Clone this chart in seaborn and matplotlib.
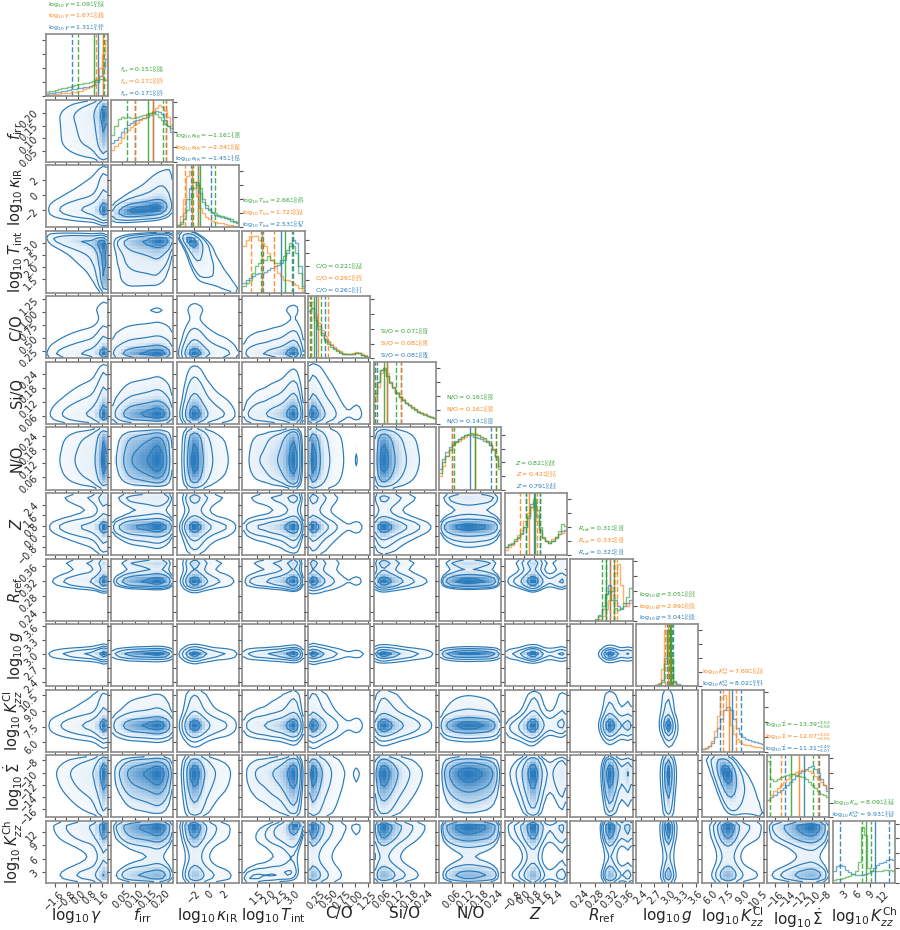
import numpy as np
import pandas as pd
import matplotlib
matplotlib.use("Agg")
import matplotlib.pyplot as plt
import seaborn as sns
from matplotlib.colors import LinearSegmentedColormap
from matplotlib.ticker import MaxNLocator
from statistics import NormalDist

sns.set_style("ticks")
plt.rcParams['font.family'] = ['DejaVu Sans']
plt.rcParams['mathtext.fontset'] = 'dejavusans'

# --------------------------- data ---------------------------
axis_labels = [r"$\log_{10}\gamma$", r"$f_{\rm irr}$", r"$\log_{10}\kappa_{\rm IR}$",
               r"$\log_{10}T_{\rm int}$", "C/O", "Si/O", "N/O", r"$Z$", r"$R_{\rm ref}$",
               r"$\log_{10}g$", r"$\log_{10}K_{zz}^{\rm Cl}$", r"$\log_{10}\dot{\Sigma}$",
               r"$\log_{10}K_{zz}^{\rm Ch}$"]
title_names = [r"\log_{10}\gamma", r"f_{\rm irr}", r"\log_{10}\kappa_{\rm IR}", r"\log_{10}T_{\rm int}",
               r"{\rm C/O}", r"{\rm Si/O}", r"{\rm N/O}", r"Z", r"R_{\rm ref}", r"\log_{10}g",
               r"\log_{10}K_{zz}^{\rm Cl}", r"\log_{10}\dot{\Sigma}", r"\log_{10}K_{zz}^{\rm Ch}"]
green_name_kch = r"\log_{10}K_{zz}"

ranges = [(-2.2, 2.0), (0.01, 0.25), (-4.3, 4.0), (0.9, 3.5), (0.1, 1.3), (0.025, 0.29),
          (0.005, 0.275), (-1.45, 3.3), (0.216, 0.38), (2.3, 3.65), (5.1, 11.0),
          (-17.3, -7.2), (0.4, 14.6)]

tick_values = [[-1.6, -0.8, 0.0, 0.8, 1.6], [0.05, 0.10, 0.15, 0.20], [-2, 0, 2],
               [1.5, 2.0, 2.5, 3.0], [0.25, 0.50, 0.75, 1.00, 1.25], [0.06, 0.12, 0.18, 0.24],
               [0.06, 0.12, 0.18, 0.24], [-0.8, 0.0, 0.8, 1.6, 2.4], [0.24, 0.28, 0.32, 0.36],
               [2.4, 2.7, 3.0, 3.3, 3.6], [6.0, 7.5, 9.0, 10.5], [-16, -14, -12, -10, -8],
               [3, 6, 9, 12]]
tick_labels = [["−1.6", "−0.8", "0.0", "0.8", "1.6"], ["0.05", "0.10", "0.15", "0.20"],
               ["−2", "0", "2"], ["1.5", "2.0", "2.5", "3.0"],
               ["0.25", "0.50", "0.75", "1.00", "1.25"], ["0.06", "0.12", "0.18", "0.24"],
               ["0.06", "0.12", "0.18", "0.24"], ["−0.8", "0.0", "0.8", "1.6", "2.4"],
               ["0.24", "0.28", "0.32", "0.36"], ["2.4", "2.7", "3.0", "3.3", "3.6"],
               ["6.0", "7.5", "9.0", "10.5"], ["−16", "−14", "−12", "−10", "−8"],
               ["3", "6", "9", "12"]]

# 20-bin marginal histograms (relative heights)
hist_blue = [
    [0.04, 0.05, 0.06, 0.07, 0.08, 0.09, 0.10, 0.11, 0.12, 0.13, 0.14, 0.15, 0.16, 0.17, 0.18, 0.20, 0.25, 0.35, 0.50, 0.65],
    [0.32, 0.36, 0.42, 0.50, 0.56, 0.62, 0.66, 0.68, 0.70, 0.72, 0.74, 0.76, 0.78, 0.82, 0.86, 0.84, 0.80, 0.70, 0.60, 0.50],
    [0.05, 0.10, 0.25, 0.50, 0.70, 0.80, 0.75, 0.60, 0.45, 0.35, 0.30, 0.25, 0.22, 0.20, 0.18, 0.17, 0.15, 0.12, 0.10, 0.08],
    [0.15, 0.20, 0.22, 0.25, 0.28, 0.30, 0.30, 0.32, 0.35, 0.38, 0.40, 0.42, 0.45, 0.50, 0.60, 0.70, 0.80, 0.75, 0.40, 0.10],
    [0.80, 0.85, 0.70, 0.55, 0.42, 0.33, 0.27, 0.22, 0.18, 0.14, 0.11, 0.08, 0.07, 0.07, 0.08, 0.10, 0.09, 0.06, 0.04, 0.03],
    [0.55, 0.75, 0.95, 0.95, 0.85, 0.75, 0.65, 0.55, 0.48, 0.42, 0.38, 0.33, 0.30, 0.26, 0.22, 0.20, 0.17, 0.15, 0.12, 0.10],
    [0.30, 0.45, 0.55, 0.62, 0.68, 0.72, 0.75, 0.78, 0.80, 0.80, 0.80, 0.78, 0.76, 0.74, 0.72, 0.70, 0.65, 0.60, 0.50, 0.35],
    [0.15, 0.18, 0.20, 0.25, 0.30, 0.38, 0.50, 0.70, 0.90, 0.95, 0.70, 0.45, 0.30, 0.25, 0.22, 0.25, 0.30, 0.38, 0.42, 0.45],
    [0.00, 0.00, 0.00, 0.00, 0.00, 0.00, 0.00, 0.00, 0.02, 0.08, 0.20, 0.45, 0.60, 0.50, 0.35, 0.25, 0.20, 0.25, 0.30, 0.35],
    [0.00, 0.00, 0.00, 0.00, 0.00, 0.01, 0.02, 0.04, 0.12, 0.50, 1.00, 0.35, 0.10, 0.04, 0.02, 0.01, 0.00, 0.00, 0.00, 0.00],
    [0.05, 0.07, 0.10, 0.15, 0.25, 0.40, 0.55, 0.70, 0.76, 0.70, 0.55, 0.40, 0.30, 0.25, 0.22, 0.20, 0.18, 0.16, 0.15, 0.13],
    [0.30, 0.35, 0.38, 0.42, 0.47, 0.50, 0.55, 0.60, 0.65, 0.70, 0.75, 0.78, 0.82, 0.85, 0.86, 0.82, 0.75, 0.65, 0.55, 0.45],
    [0.20, 0.28, 0.30, 0.28, 0.22, 0.18, 0.15, 0.14, 0.13, 0.14, 0.15, 0.17, 0.20, 0.25, 0.30, 0.33, 0.36, 0.38, 0.40, 0.38],
]
hist_orange = [
    [0.02, 0.02, 0.03, 0.03, 0.04, 0.05, 0.05, 0.06, 0.07, 0.08, 0.09, 0.10, 0.12, 0.14, 0.17, 0.20, 0.30, 0.50, 0.75, 1.00],
    [0.20, 0.26, 0.32, 0.40, 0.48, 0.54, 0.58, 0.62, 0.66, 0.70, 0.74, 0.78, 0.82, 0.86, 0.90, 0.95, 0.92, 0.85, 0.75, 0.62],
    [0.05, 0.20, 0.50, 0.90, 1.00, 0.80, 0.55, 0.35, 0.25, 0.18, 0.14, 0.12, 0.10, 0.08, 0.07, 0.06, 0.05, 0.04, 0.03, 0.02],
    [0.70, 0.80, 0.85, 0.85, 0.85, 0.80, 0.75, 0.70, 0.60, 0.50, 0.40, 0.30, 0.25, 0.20, 0.20, 0.18, 0.15, 0.12, 0.08, 0.03],
    [0.90, 0.95, 0.75, 0.60, 0.48, 0.38, 0.30, 0.24, 0.20, 0.15, 0.12, 0.10, 0.08, 0.08, 0.09, 0.11, 0.10, 0.07, 0.05, 0.03],
    [0.40, 0.65, 0.90, 1.00, 0.90, 0.75, 0.65, 0.57, 0.50, 0.44, 0.38, 0.34, 0.30, 0.26, 0.23, 0.20, 0.17, 0.15, 0.12, 0.10],
    [0.20, 0.35, 0.50, 0.60, 0.65, 0.70, 0.72, 0.75, 0.78, 0.80, 0.82, 0.82, 0.80, 0.78, 0.75, 0.72, 0.68, 0.60, 0.50, 0.35],
    [0.10, 0.14, 0.18, 0.25, 0.35, 0.45, 0.60, 0.75, 0.85, 0.80, 0.60, 0.40, 0.30, 0.25, 0.25, 0.28, 0.32, 0.38, 0.40, 0.42],
    [0.00, 0.00, 0.00, 0.00, 0.00, 0.00, 0.00, 0.00, 0.01, 0.03, 0.08, 0.20, 0.35, 0.55, 0.80, 0.95, 0.60, 0.30, 0.25, 0.30],
    [0.00, 0.00, 0.00, 0.00, 0.00, 0.01, 0.02, 0.05, 0.30, 1.00, 0.60, 0.15, 0.05, 0.02, 0.01, 0.00, 0.00, 0.00, 0.00, 0.00],
    [0.05, 0.07, 0.10, 0.18, 0.35, 0.60, 0.90, 0.95, 0.70, 0.45, 0.30, 0.22, 0.17, 0.14, 0.12, 0.11, 0.10, 0.09, 0.08, 0.07],
    [0.30, 0.38, 0.45, 0.50, 0.55, 0.60, 0.65, 0.70, 0.73, 0.76, 0.78, 0.80, 0.80, 0.78, 0.75, 0.70, 0.65, 0.60, 0.55, 0.50],
    None,
]
hist_green = [
    [0.08, 0.09, 0.10, 0.11, 0.12, 0.14, 0.15, 0.17, 0.18, 0.20, 0.21, 0.22, 0.23, 0.24, 0.25, 0.27, 0.28, 0.30, 0.30, 0.28],
    [0.45, 0.60, 0.72, 0.76, 0.74, 0.75, 0.73, 0.74, 0.76, 0.77, 0.78, 0.80, 0.82, 0.84, 0.80, 0.76, 0.70, 0.64, 0.60, 0.56],
    [0.03, 0.06, 0.15, 0.30, 0.50, 0.70, 0.80, 0.70, 0.50, 0.40, 0.33, 0.28, 0.25, 0.22, 0.20, 0.18, 0.17, 0.15, 0.12, 0.10],
    [0.10, 0.15, 0.20, 0.30, 0.40, 0.45, 0.50, 0.50, 0.55, 0.50, 0.45, 0.45, 0.50, 0.55, 0.65, 0.75, 0.70, 0.60, 0.30, 0.08],
    [0.95, 0.85, 0.65, 0.50, 0.40, 0.30, 0.25, 0.20, 0.16, 0.12, 0.10, 0.08, 0.07, 0.07, 0.08, 0.10, 0.09, 0.06, 0.04, 0.03],
    [0.50, 0.75, 0.95, 1.00, 0.85, 0.72, 0.63, 0.55, 0.48, 0.42, 0.37, 0.33, 0.29, 0.25, 0.22, 0.19, 0.16, 0.14, 0.12, 0.10],
    [0.25, 0.40, 0.50, 0.58, 0.65, 0.70, 0.74, 0.77, 0.80, 0.82, 0.83, 0.82, 0.80, 0.78, 0.76, 0.72, 0.66, 0.58, 0.48, 0.30],
    [0.15, 0.20, 0.22, 0.28, 0.32, 0.40, 0.50, 0.65, 0.85, 1.00, 0.80, 0.50, 0.32, 0.25, 0.22, 0.25, 0.32, 0.42, 0.55, 0.52],
    [0.00, 0.00, 0.00, 0.00, 0.00, 0.00, 0.00, 0.00, 0.03, 0.10, 0.25, 0.45, 0.50, 0.35, 0.22, 0.18, 0.22, 0.30, 0.40, 0.55],
    [0.00, 0.00, 0.00, 0.00, 0.00, 0.01, 0.02, 0.03, 0.08, 0.40, 1.00, 0.50, 0.08, 0.03, 0.01, 0.00, 0.00, 0.00, 0.00, 0.00],
    None,
    [0.95, 0.65, 0.62, 0.65, 0.68, 0.70, 0.72, 0.73, 0.73, 0.72, 0.70, 0.68, 0.65, 0.60, 0.55, 0.50, 0.45, 0.40, 0.37, 0.35],
    [0.05, 0.06, 0.07, 0.08, 0.10, 0.12, 0.15, 0.20, 0.35, 0.95, 0.80, 0.25, 0.20, 0.20, 0.20, 0.21, 0.22, 0.22, 0.22, 0.20],
]

# (median, +err, -err) from the titles
summary_blue = [(1.31, 0.36, 1.71), (0.17, 0.05, 0.07), (-1.45, 1.67, 1.00), (2.53, 0.47, 0.76),
                (0.26, 0.17, 0.11), (0.08, 0.06, 0.04), (0.14, 0.09, 0.08), (0.79, 0.43, 0.63),
                (0.32, 0.01, 0.01), (3.04, 0.06, 0.06), (8.02, 0.81, 1.17), (-11.31, 2.49, 3.07),
                (9.93, 3.23, 7.87)]
summary_orange = [(1.67, 0.26, 0.48), (0.17, 0.05, 0.07), (-2.34, 0.82, 0.85), (1.72, 0.51, 0.46),
                  (0.29, 0.20, 0.13), (0.08, 0.06, 0.05), (0.16, 0.09, 0.10), (0.42, 0.57, 0.70),
                  (0.33, 0.01, 0.01), (2.99, 0.05, 0.06), (7.69, 0.72, 0.60), (-12.07, 3.02, 3.05),
                  None]
summary_green = [(1.09, 0.62, 1.08), (0.15, 0.06, 0.08), (-1.16, 1.98, 1.00), (2.66, 0.29, 0.97),
                 (0.22, 0.13, 0.08), (0.07, 0.05, 0.04), (0.16, 0.09, 0.09), (0.82, 0.44, 0.65),
                 (0.31, 0.02, 0.01), (3.05, 0.03, 0.03), None, (-13.39, 3.52, 3.50),
                 (8.09, 1.12, 0.98)]

# pair correlations seen in the 2D panels (column param, row param): rho
pair_rho = {(0, 3): -0.45, (1, 2): 0.35, (2, 3): -0.75, (1, 3): 0.15, (3, 12): 0.45,
            (10, 11): -0.5, (0, 1): 0.1, (2, 12): -0.1, (9, 10): -0.2, (7, 10): 0.2}

# --------------------------- helpers ---------------------------
c_blue, c_orange, c_green = "#1f77b4", "#ff7f0e", "#2ca02c"
spine_col = "#8a8a8a"
dens_cmap = LinearSegmentedColormap.from_list(
    "dens", [(0.0, "#ffffff"), (0.45, "#e3eef8"), (0.75, "#8fbbe0"), (1.0, "#2a7bbd")])
corner_levels = [0.118, 0.393, 0.675, 0.865]
nd = NormalDist()
n = len(axis_labels)


def normal_scores(h):
    h = np.asarray(h, float)
    F = (np.cumsum(h) - 0.5 * h) / h.sum()
    F = np.clip(F, 1e-3, 1 - 1e-3)
    return np.array([nd.inv_cdf(f) for f in F])


def smooth2d(H, s=0.9):
    k = np.exp(-0.5 * (np.arange(-3, 4) / s) ** 2)
    k /= k.sum()
    Hp = np.pad(H, 3)
    Hp = np.apply_along_axis(lambda r: np.convolve(r, k, mode="same"), 0, Hp)
    Hp = np.apply_along_axis(lambda r: np.convolve(r, k, mode="same"), 1, Hp)
    return Hp[3:-3, 3:-3]


edges = [np.linspace(lo, hi, 21) for lo, hi in ranges]
centers = [0.5 * (e[1:] + e[:-1]) for e in edges]
scores = [normal_scores(h) for h in hist_blue]

# --------------------------- figure ---------------------------
fig, axes = plt.subplots(n, n, figsize=(9, 9.3), dpi=100)
fig.subplots_adjust(left=0.0508, right=0.9944, bottom=0.0505, top=0.9634, wspace=0.055, hspace=0.055)

for j in range(n):
    for i in range(n):
        ax = axes[j, i]
        if i > j:
            ax.set_visible(False)
            continue

        if i == j:
            # ---- diagonal: three step histograms with median / 16-84 lines
            series = [(hist_blue[i], summary_blue[i], c_blue),
                      (hist_orange[i], summary_orange[i], c_orange),
                      (hist_green[i], summary_green[i], c_green)]
            top = 0
            for h, s, col in series:
                if h is None:
                    continue
                d1 = pd.DataFrame({"x": centers[i], "w": h})
                sns.histplot(data=d1, x="x", weights="w", bins=20, binrange=ranges[i],
                             element="step", fill=False, color=col, alpha=0.6,
                             linewidth=1.0, ax=ax)
                top = max(top, max(h))
                med, up, lo = s
                ax.axvline(med, color=col, lw=1.0, alpha=0.85)
                ax.axvline(med - lo, color=col, lw=1.0, ls="--", alpha=0.85)
                ax.axvline(med + up, color=col, lw=1.0, ls="--", alpha=0.85)
            ax.set_ylim(0, 1.1 * top)
            ax.yaxis.set_major_locator(MaxNLocator(5))
            if i > 0:
                ax.yaxis.tick_right()
            ax.set_yticklabels([])
            # titles: blue nearest the axes, then orange, then green
            slot = 0
            for s, col, name in [(summary_blue[i], c_blue, title_names[i]),
                                 (summary_orange[i], c_orange, title_names[i]),
                                 (summary_green[i], c_green,
                                  green_name_kch if i == n - 1 else title_names[i])]:
                if s is None:
                    continue
                med, up, lo = s
                txt = rf"${name} = {med:.2f}^{{+{up:.2f}}}_{{-{lo:.2f}}}$"
                ax.text(0.5, 1.10 + 0.19 * slot, txt, transform=ax.transAxes, ha="center",
                        va="center", color=col, fontsize=4.5)
                slot += 1
        else:
            # ---- off-diagonal: blue 2D density + contours
            hx, hy = np.asarray(hist_blue[i], float), np.asarray(hist_blue[j], float)
            W = np.outer(hx, hy)
            rho = pair_rho.get((i, j), 0.0)
            if rho != 0.0:
                u, v = np.meshgrid(scores[i], scores[j], indexing="ij")
                W = W * np.exp(-(rho ** 2 * (u ** 2 + v ** 2) - 2 * rho * u * v) / (2 * (1 - rho ** 2)))
            W = W / W.sum()
            H = smooth2d(W)

            X, Y = np.meshgrid(centers[i], centers[j], indexing="ij")
            df = pd.DataFrame({"x": X.ravel(), "y": Y.ravel(), "w": H.ravel()})
            df = df[df["w"] > 0]
            sns.histplot(data=df, x="x", y="y", weights="w", bins=20,
                         binrange=(ranges[i], ranges[j]),
                         cmap=dens_cmap, pthresh=0.12, ax=ax)

            Hf = np.sort(H.ravel())[::-1]
            cum = np.cumsum(Hf) / Hf.sum()
            V = sorted(Hf[np.searchsorted(cum, lv)] for lv in corner_levels)
            V = np.unique(V)
            dx = centers[i][1] - centers[i][0]
            dy = centers[j][1] - centers[j][0]
            H2 = np.pad(np.pad(H, 1, mode="edge"), 1, constant_values=H.min())
            X2 = np.concatenate([centers[i][0] - np.array([2, 1]) * dx, centers[i],
                                 centers[i][-1] + np.array([1, 2]) * dx])
            Y2 = np.concatenate([centers[j][0] - np.array([2, 1]) * dy, centers[j],
                                 centers[j][-1] + np.array([1, 2]) * dy])
            ax.contour(X2, Y2, H2.T, levels=V, colors="#2b7bba", linewidths=0.85)
            ax.set_ylim(*ranges[j])
            ax.set_yticks(tick_values[j])
            if i == 0:
                ax.set_yticklabels(tick_labels[j], rotation=45, fontsize=7)
            else:
                ax.set_yticklabels([])

        ax.set_xlim(*ranges[i])
        ax.set_xticks(tick_values[i])
        if j == n - 1:
            ax.set_xticklabels(tick_labels[i], rotation=45, fontsize=7)
        else:
            ax.set_xticklabels([])

        ax.set_xlabel("")
        ax.set_ylabel("")
        if j == n - 1:
            ax.set_xlabel(axis_labels[i], fontsize=11)
            ax.xaxis.set_label_coords(0.5, -0.37)
        if i == 0 and j > 0:
            ax.set_ylabel(axis_labels[j], fontsize=10.5)
            ax.yaxis.set_label_coords(-0.34, 0.5)

        ax.tick_params(direction="out", length=3, width=0.8, color="#555555", pad=1)
        for sp in ax.spines.values():
            sp.set_edgecolor(spine_col)
            sp.set_linewidth(1.2)

fig.savefig("out.png", dpi=100)
